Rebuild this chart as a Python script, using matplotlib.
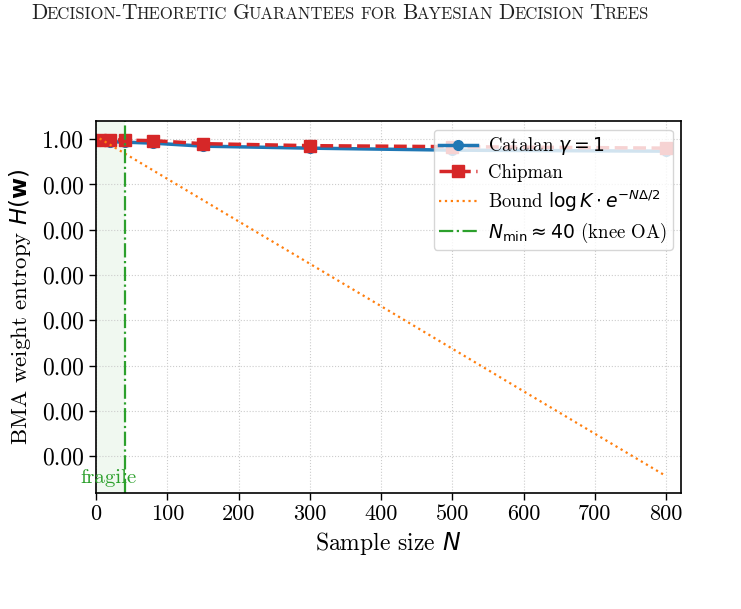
import matplotlib
matplotlib.use("Agg")
import matplotlib.pyplot as plt
import matplotlib.transforms as mtransforms
from matplotlib.ticker import FixedLocator, FormatStrFormatter, NullLocator

plt.rcParams['font.family'] = ['cmr10', 'DejaVu Serif']
plt.rcParams['mathtext.fontset'] = 'dejavusans'
plt.rcParams['axes.unicode_minus'] = False

# data
n_points = [5, 20, 40, 80, 150, 300, 500, 800]
catalan_h = [0.737, 0.683, 0.633, 0.544, 0.344, 0.254, 0.187, 0.160]
chipman_h = [0.927, 0.927, 0.859, 0.796, 0.503, 0.371, 0.318, 0.254]
bound_n = [5, 200, 400, 600, 800]
bound_h = [1.11, 3.6e-6, 8.7e-12, 2.0e-17, 4.8e-23]
n_min = 40
ytick_vals = [1e0, 1e-3, 1e-6, 1e-9, 1e-12, 1e-15, 1e-18, 1e-21]
xtick_vals = [0, 100, 200, 300, 400, 500, 600, 700, 800]
header = "Decision-Theoretic Guarantees for Bayesian Decision Trees"

fig = plt.figure(figsize=(7.41, 6.09), dpi=100)
ax = fig.add_axes([0.1296, 0.1905, 0.7894, 0.6105])

ax.axvspan(0, n_min, color='#2ca02c', alpha=0.07, lw=0)
ax.plot(n_points, catalan_h, '-o', color='#1f77b4', lw=2.5, ms=7,
        label=r'Catalan $\gamma=1$')
ax.plot(n_points, chipman_h, '--s', color='#d62728', lw=2.5, ms=8,
        label='Chipman')
ax.plot(bound_n, bound_h, ':', color='#ff7f0e', lw=1.6,
        label=r'Bound $\log K\cdot e^{-N\Delta/2}$')
ax.axvline(n_min, color='#2ca02c', ls='-.', lw=1.6,
           label=r'$N_{\min}\approx 40$ (knee OA)')

trans = mtransforms.blended_transform_factory(ax.transData, ax.transAxes)
ax.text(17, 0.015, 'fragile', color='#2ca02c', fontsize=15,
        ha='center', va='bottom', transform=trans)

ax.set_yscale('log')
ax.set_xlim(0, 821)
ax.set_ylim(10**-23.44, 10**1.19)
ax.yaxis.set_major_locator(FixedLocator(ytick_vals))
ax.yaxis.set_minor_locator(NullLocator())
ax.yaxis.set_major_formatter(FormatStrFormatter('%.2f'))
ax.set_xticks(xtick_vals)

ax.grid(True, ls=':', color='#cccccc', lw=0.8)
ax.tick_params(axis='x', labelsize=16, direction='out', length=5, width=1)
ax.tick_params(axis='y', labelsize=17, direction='out', length=5, width=1)
for sp in ax.spines.values():
    sp.set_linewidth(1.2)

ax.set_xlabel(r'Sample size $N$', fontsize=17)
ax.set_ylabel(r'BMA weight entropy $H(\mathbf{w})$', fontsize=16.5,
              labelpad=7)

ax.legend(loc='upper right', fontsize=13.5, framealpha=0.8,
          handlelength=2.0, handletextpad=0.6, borderpad=0.3,
          labelspacing=0.35, borderaxespad=0.45)

# small caps page header
renderer = fig.canvas.get_renderer()
W = fig.get_size_inches()[0] * fig.dpi
x_px = 31
y_frac = 1 - 19 / 609
big, small = 15.5, 12.0
for word_i, word in enumerate(header.split(' ')):
    if word_i > 0:
        x_px += 6
    chunks = []
    for ch in word:
        size = big if ch.isupper() else small
        if chunks and chunks[-1][1] == size:
            chunks[-1][0] += ch.upper()
        else:
            chunks.append([ch.upper(), size])
    for s, size in chunks:
        t = fig.text(x_px / W, y_frac, s, fontsize=size, ha='left',
                     va='baseline', color='#222222')
        x_px += t.get_window_extent(renderer).width - 0.6

fig.savefig('out.png', dpi=100)
